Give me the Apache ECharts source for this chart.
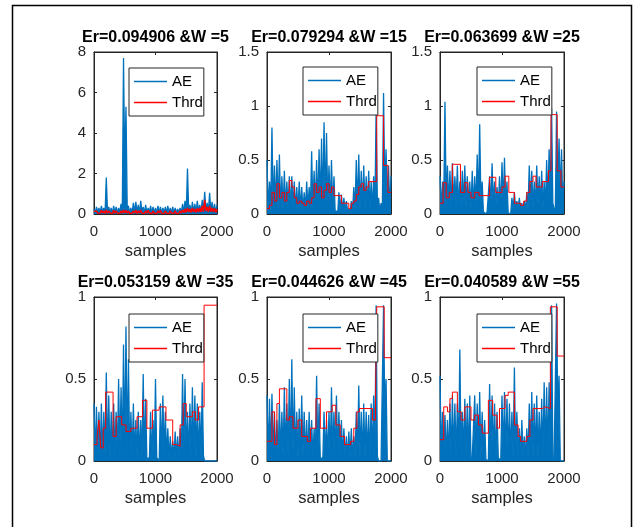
<!DOCTYPE html>
<html><head><meta charset="utf-8">
<script src="https://cdn.jsdelivr.net/npm/echarts@6/dist/echarts.min.js"></script>
<style>html,body{margin:0;padding:0;background:#fff}#c{width:638px;height:527px}</style>
</head><body><div id="c"></div>
<script>
// ---------- data ----------
const titles = ['Er=0.094906 &W =5','Er=0.079294 &W =15','Er=0.063699 &W =25','Er=0.053159 &W =35','Er=0.044626 &W =45','Er=0.040589 &W =55'];
const xTicks = [0, 1000, 2000];
const yMax = [8, 1.5, 1.5, 1, 1, 1];
const yStep = [2, 0.5, 0.5, 0.5, 0.5, 0.5];
const aeStep = 20; // samples between successive peak / trough readings

// AE peaks (every 40 samples, starting 0) and troughs (every 40 samples, starting 20)
const peaks5 = [0.25,0.35,0.3,0.4,0.3,1.8,0.35,0.3,0.4,0.35,0.3,0.5,7.7,5.3,0.4,0.3,0.55,0.6,0.45,0.65,0.35,0.45,0.3,0.4,0.35,0.3,0.4,0.35,0.3,0.35,0.4,0.3,0.35,0.3,0.25,0.3,0.5,0.65,2.25,0.45,0.6,0.5,0.65,0.45,0.7,1.1,0.55,1.05,0.6,0.5,0.45];
const troughs5 = [0.05,0.08,0.04,0.1,0.06,0.05,0.08,0.04,0.06,0.05,0.08,0.1,2.1,0.3,0.05,0.06,0.1,0.08,0.05,0.1,0.06,0.05,0.08,0.05,0.06,0.04,0.08,0.05,0.06,0.05,0.04,0.06,0.05,0.04,0.06,0.05,0.1,0.08,0.1,0.06,0.1,0.08,0.12,0.08,0.1,0.15,0.1,0.12,0.08,0.06];
const peaks15 = [0.5,0.3,0.8,0.45,0.5,0.55,0.35,0.4,0.3,0.35,0.35,0.3,0.25,0.3,0.25,0.2,0.3,0.25,0.58,0.4,0.5,0.6,0.7,0.85,0.75,0.45,0.5,0.35,0.03,0.2,0.18,0.15,0.12,0.05,0.12,0.25,0.5,0.55,0.4,0.45,0.35,0.4,0.3,0.35,0.97,0.15,0.1,1.12,0.6,0.45,0.35];
const troughs15 = [0.03,0.05,0.04,0.06,0.05,0.04,0.03,0.05,0.04,0.03,0.05,0.04,0.03,0.04,0.03,0.04,0.05,0.04,0.05,0.06,0.05,0.08,0.06,0.1,0.08,0.05,0.04,0.01,0.0,0.02,0.03,0.02,0.03,0.01,0.02,0.03,0.05,0.04,0.06,0.05,0.04,0.05,0.03,0.04,0.1,0.02,0.02,0.2,0.08,0.05];
const peaks25 = [0.35,0.3,1.04,0.45,0.4,0.47,0.35,0.45,0.3,0.4,0.45,0.35,0.3,0.4,0.35,0.55,0.83,0.3,0.02,0.02,0.35,0.47,0.3,0.25,0.35,0.48,0.52,0.3,0.02,0.15,0.2,0.12,0.15,0.1,0.12,0.2,0.45,0.4,0.3,0.45,0.35,0.4,0.3,0.5,0.6,0.98,0.05,0.95,0.7,0.6,0.3];
const troughs25 = [0.05,0.08,0.1,0.08,0.06,0.1,0.08,0.05,0.06,0.08,0.05,0.06,0.04,0.05,0.06,0.08,0.1,0.02,0.0,0.01,0.05,0.08,0.06,0.05,0.04,0.08,0.06,0.01,0.0,0.04,0.05,0.04,0.03,0.04,0.03,0.05,0.08,0.06,0.05,0.08,0.06,0.05,0.06,0.1,0.2,0.1,0.01,0.2,0.15,0.1];
const peaks35 = [0.35,0.33,0.3,0.35,0.3,0.54,0.4,0.3,0.35,0.3,0.5,0.45,0.71,0.82,0.62,0.3,0.35,0.25,0.3,0.25,0.53,0.38,0.02,0.3,0.25,0.5,0.02,0.35,0.4,0.3,0.2,0.15,0.12,0.18,0.15,0.2,0.53,0.5,0.3,0.35,0.45,0.4,0.35,0.3,0.48,0,0,0,0,0,0];
const troughs35 = [0.02,0.03,0.01,0.02,0.03,0.02,0.01,0.02,0.03,0.02,0.03,0.02,0.04,0.03,0.02,0.01,0.02,0.03,0.02,0.01,0.02,0,0,0.02,0.01,0.02,0,0.02,0.03,0.02,0.01,0.02,0.01,0.02,0.01,0.02,0.03,0.02,0.01,0.02,0.03,0.02,0.01,0.02,0.03,0,0,0,0,0];
const peaks45 = [0.4,0.38,0.41,0.3,0.25,0.35,0.3,0.45,0.35,0.5,0.62,0.45,0.3,0.32,0.4,0.3,0.25,0.3,0.25,0.2,0.52,0.35,0.02,0.3,0.25,0.3,0.45,0.3,0.4,0.3,0.25,0.2,0.15,0.18,0.2,0.15,0.3,0.46,0.3,0.35,0.3,0.28,0.35,0.4,0.95,0,0,0.95,0.5,0,0];
const troughs45 = [0.02,0.03,0.02,0.01,0.02,0.03,0.02,0.03,0.02,0.03,0.04,0.02,0.01,0.02,0.03,0.02,0.01,0.02,0.01,0.02,0.03,0,0,0.02,0.01,0.02,0.03,0.02,0.03,0.02,0.01,0.02,0.01,0.02,0.01,0.02,0.03,0.02,0.01,0.02,0.03,0.02,0.01,0.02,0.03,0,0,0.3,0,0];
const peaks55 = [0.52,0.3,0.28,0.25,0.35,0.4,0.35,0.35,0.68,0.3,0.38,0.35,0.4,0.02,0.4,0.35,0.42,0.3,0.25,0.02,0.47,0.4,0.35,0.3,0.02,0.4,0.42,0.38,0.35,0.3,0.57,0.3,0.2,0.25,0.15,0.2,0.35,0.42,0.35,0.4,0.3,0.38,0.48,0.45,0.48,0.95,0,0.96,0.52,0,0];
const troughs55 = [0.02,0.03,0.02,0.01,0.02,0.03,0.02,0.03,0.02,0.03,0.04,0.02,0,0.02,0.03,0.02,0.01,0.02,0.01,0,0.03,0.02,0.01,0.02,0,0.02,0.03,0.02,0.03,0.02,0.01,0.02,0.01,0.02,0.01,0.02,0.03,0.02,0.01,0.02,0.03,0.02,0.01,0.02,0.03,0.02,0,0.3,0,0];

// Thrd for W=5: jagged, read as high / low every 40 samples
const thrd5Hi = [0.12,0.15,0.1,0.18,0.15,0.2,0.15,0.12,0.18,0.15,0.12,0.15,0.2,0.18,0.15,0.12,0.15,0.2,0.15,0.2,0.12,0.15,0.18,0.12,0.15,0.12,0.15,0.18,0.12,0.15,0.12,0.15,0.12,0.15,0.12,0.15,0.2,0.25,0.3,0.25,0.3,0.25,0.28,0.3,0.4,0.7,0.35,0.4,0.3,0.28,0.25];
const thrd5Lo = [0.03,0.05,0.04,0.05,0.03,0.04,0.05,0.03,0.04,0.05,0.03,0.04,0.05,0.04,0.03,0.05,0.04,0.03,0.05,0.04,0.03,0.04,0.05,0.03,0.04,0.03,0.05,0.04,0.03,0.04,0.03,0.05,0.04,0.03,0.04,0.05,0.06,0.08,0.1,0.08,0.1,0.08,0.1,0.1,0.12,0.15,0.1,0.12,0.1,0.08];
// Thrd step levels for the other windows: start sample and level
const thrd15X = [0,40,80,120,160,200,240,280,320,360,400,440,480,520,560,600,640,680,720,760,800,840,880,920,960,1000,1040,1080,1200,1320,1360,1400,1440,1480,1520,1560,1600,1640,1770,1880,1950,2000];
const thrd15Y = [0.05,0.08,0.2,0.12,0.28,0.15,0.2,0.12,0.2,0.31,0.25,0.15,0.1,0.12,0.1,0.08,0.12,0.1,0.15,0.28,0.2,0.25,0.15,0.22,0.28,0.2,0.25,0.17,0.1,0.05,0.1,0.12,0.18,0.25,0.28,0.22,0.25,0.3,0.91,0.45,0.2,0.2];
const thrd25X = [0,50,100,150,200,330,400,450,500,560,630,800,900,1000,1050,1110,1200,1300,1350,1400,1450,1500,1550,1650,1750,1790,1890,1950,2000];
const thrd25Y = [0.1,0.29,0.15,0.2,0.46,0.2,0.29,0.2,0.15,0.2,0.17,0.34,0.2,0.25,0.35,0.2,0.1,0.08,0.12,0.2,0.3,0.35,0.25,0.3,0.4,0.92,0.4,0.25,0.25];
const thrd35X = [0,50,80,110,150,190,310,360,450,520,600,700,790,860,950,1060,1170,1280,1340,1400,1450,1500,1600,1650,1700,1790,2000];
const thrd35Y = [0.1,0.15,0.25,0.08,0.2,0.42,0.15,0.27,0.22,0.18,0.2,0.27,0.37,0.2,0.31,0.33,0.25,0.1,0.09,0.22,0.35,0.27,0.3,0.25,0.33,0.95,0.95];
const thrd45X = [0,80,120,160,200,320,360,420,500,560,650,700,790,860,960,1050,1110,1180,1250,1350,1400,1450,1490,1700,1750,1770,1890,2000];
const thrd45Y = [0.12,0.3,0.1,0.35,0.44,0.25,0.27,0.2,0.25,0.15,0.12,0.2,0.38,0.2,0.3,0.34,0.22,0.15,0.1,0.12,0.2,0.3,0.32,0.25,0.38,0.94,0.63,0.63];
const thrd55X = [0,60,120,160,200,280,340,400,500,560,620,680,780,850,920,960,1050,1100,1200,1260,1300,1400,1450,1500,1650,1700,1780,1890,2000];
const thrd55Y = [0.13,0.33,0.3,0.38,0.42,0.3,0.25,0.33,0.25,0.28,0.22,0.17,0.37,0.28,0.2,0.32,0.4,0.42,0.22,0.15,0.12,0.15,0.25,0.32,0.33,0.32,0.94,0.64,0.64];

// ---------- build ----------
function interleave(hi, lo, step) {
  const out = [];
  for (let i = 0; i < hi.length; i++) {
    out.push([2 * i * step, hi[i]]);
    if (i < lo.length) out.push([(2 * i + 1) * step, lo[i]]);
  }
  return out;
}
function pairs(xs, ys) { return xs.map((x, i) => [x, ys[i]]); }

const aeData = [
  interleave(peaks5, troughs5, aeStep), interleave(peaks15, troughs15, aeStep),
  interleave(peaks25, troughs25, aeStep), interleave(peaks35, troughs35, aeStep),
  interleave(peaks45, troughs45, aeStep), interleave(peaks55, troughs55, aeStep)
];
const thrdData = [
  interleave(thrd5Hi, thrd5Lo, aeStep), pairs(thrd15X, thrd15Y), pairs(thrd25X, thrd25Y),
  pairs(thrd35X, thrd35Y), pairs(thrd45X, thrd45Y), pairs(thrd55X, thrd55Y)
];

const gridPos = [
  {left: 94, top: 52, width: 123, height: 162},
  {left: 267, top: 52, width: 124, height: 162},
  {left: 440, top: 52, width: 124, height: 162},
  {left: 94, top: 297, width: 123, height: 164},
  {left: 267, top: 297, width: 124, height: 164},
  {left: 440, top: 297, width: 124, height: 164}
];
const legendPos = [[129, 68], [303, 67], [477, 67], [129, 314], [303, 314], [477, 314]];

const FONT = 'Liberation Sans, Arial, Helvetica, sans-serif';
const AXC = '#262626';
const grid = [], xAxis = [], yAxis = [], series = [], title = [], legend = [];
gridPos.forEach((g, i) => {
  grid.push(Object.assign({show: true, borderColor: AXC, borderWidth: 1, backgroundColor: '#fff', containLabel: false}, g));
  const xBase = {type: 'value', gridIndex: i, min: 0, max: 2000, interval: 1000,
    axisLine: {show: true, onZero: false, lineStyle: {color: AXC, width: 1}},
    axisTick: {show: true, inside: true, length: 3, lineStyle: {color: AXC}},
    splitLine: {show: false}};
  xAxis.push(Object.assign({}, xBase, {position: 'bottom',
    axisLabel: {show: true, color: AXC, fontSize: 15, fontFamily: FONT, margin: 10,
      customValues: xTicks, formatter: v => String(v)},
    name: 'samples', nameLocation: 'middle', nameGap: 29,
    nameTextStyle: {color: AXC, fontSize: 16.5, fontFamily: FONT}}));
  xAxis.push(Object.assign({}, xBase, {position: 'top', axisLabel: {show: false}}));
  const yBase = {type: 'value', gridIndex: i, min: 0, max: yMax[i], interval: yStep[i],
    axisLine: {show: true, onZero: false, lineStyle: {color: AXC, width: 1}},
    axisTick: {show: true, inside: true, length: 3, lineStyle: {color: AXC}},
    splitLine: {show: false}};
  yAxis.push(Object.assign({}, yBase, {position: 'left',
    axisLabel: {show: true, color: AXC, fontSize: 15, fontFamily: FONT, margin: 8}}));
  yAxis.push(Object.assign({}, yBase, {position: 'right', axisLabel: {show: false}}));
  series.push({name: 'AE', type: 'line', xAxisIndex: 2 * i, yAxisIndex: 2 * i, data: aeData[i],
    symbol: 'none', showSymbol: false, lineStyle: {color: '#0072BD', width: 1.3},
    areaStyle: {color: '#0072BD', opacity: 1, origin: 'start'},
    itemStyle: {color: '#0072BD'}, z: 2, silent: true});
  series.push({name: 'Thrd', type: 'line', xAxisIndex: 2 * i, yAxisIndex: 2 * i, data: thrdData[i],
    step: i === 0 ? false : 'end', symbol: 'none', showSymbol: false,
    lineStyle: {color: '#FF0000', width: i === 0 ? 1.5 : 1}, itemStyle: {color: '#FF0000'}, z: 3, silent: true});
  title.push({text: titles[i], left: g.left + g.width / 2, top: g.top - 22, textAlign: 'center',
    textStyle: {color: '#000', fontSize: 16, fontWeight: 'bold', fontFamily: FONT}, padding: 0});
  legend.push({data: ['AE', 'Thrd'], orient: 'vertical', left: legendPos[i][0], top: legendPos[i][1],
    icon: 'rect', itemWidth: 33, itemHeight: 1.5, itemGap: 6, padding: [6, 1, 6, 5],
    backgroundColor: '#fff', borderColor: AXC, borderWidth: 1, borderRadius: 0,
    selectedMode: false, textStyle: {color: '#000', fontSize: 15, lineHeight: 14, fontFamily: FONT}});
});

const chart = echarts.init(document.getElementById('c'), null, {renderer: 'canvas'});
chart.setOption({
  animation: false, backgroundColor: '#fff',
  title, legend, grid, xAxis, yAxis, series,
  graphic: [{type: 'rect', shape: {x: 12.5, y: 5.5, width: 619, height: 600},
    style: {fill: 'none', stroke: '#000', lineWidth: 1.5}, silent: true, z: 100}]
});
</script></body></html>
